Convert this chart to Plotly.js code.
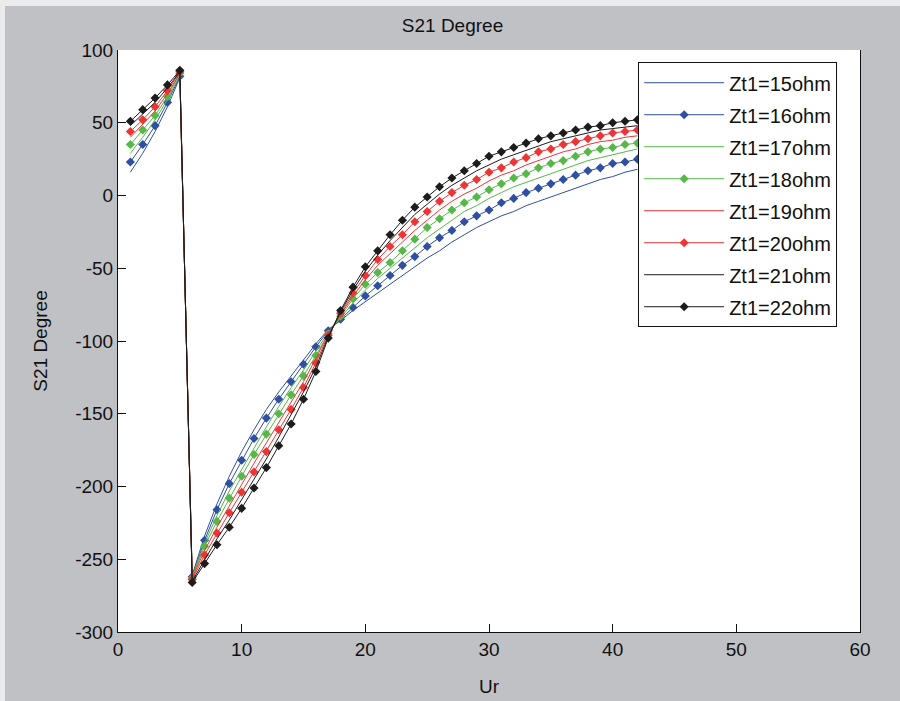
<!DOCTYPE html>
<html>
<head>
<meta charset="utf-8">
<script src="https://cdn.plot.ly/plotly-3.0.1.min.js"></script>
<style>
html,body{margin:0;padding:0;background:#ebebeb;width:900px;height:701px;overflow:hidden;}
#chart{position:absolute;left:5px;top:6px;width:895px;height:695px;}
</style>
</head>
<body>
<div id="chart"></div>
<script>
const ur = [1,2,3,4,5,6,7,8,9,10,11,12,13,14,15,16,17,18,19,20,21,22,23,24,25,26,27,28,29,30,31,32,33,34,35,36,37,38,39,40,41,42];

const zt15 = [16,29,44,61,81,-261,-234,-212,-193,-176,-161,-147,-135,-124,-113,-102,-92,-86,-79,-73,-67,-61,-55,-49,-43,-38,-32,-27,-22,-18,-14,-11,-7,-4,-1,2,5,8,11,13,16,18];
const zt16 = [23,35,48,64,82,-262,-237,-216,-198,-182,-167,-153,-140,-128,-116,-104,-93,-85,-77,-69,-62,-55,-48,-42,-35,-29,-24,-18,-14,-10,-5,-2,2,5,8,11,14,17,19,22,23,25];
const zt17 = [29,40,52,66,83,-262,-239,-220,-203,-188,-173,-159,-145,-132,-120,-107,-94,-84,-74,-65,-57,-50,-43,-36,-29,-23,-17,-11,-7,-2,2,6,9,12,15,18,21,24,26,28,30,32];
const zt18 = [35,45,55,68,84,-263,-241,-224,-208,-193,-178,-164,-150,-137,-124,-110,-95,-83,-71,-61,-53,-46,-38,-30,-22,-16,-10,-5,-1,4,8,12,15,19,22,24,27,30,32,33,35,36];
const zt19 = [40,49,58,70,84,-263,-244,-228,-213,-198,-184,-170,-156,-142,-128,-112,-95,-82,-69,-58,-48,-40,-32,-24,-17,-10,-4,1,5,10,14,17,21,24,27,30,32,35,37,38,40,41];
const zt20 = [44,52,61,72,85,-264,-247,-232,-218,-204,-190,-176,-161,-147,-132,-115,-96,-81,-67,-55,-44,-35,-27,-18,-11,-4,2,7,11,16,19,23,26,30,32,35,37,39,41,43,44,45];
const zt21 = [48,56,64,74,85,-265,-250,-236,-223,-209,-195,-181,-166,-151,-135,-118,-97,-80,-65,-52,-41,-31,-22,-13,-6,1,7,12,17,21,25,28,31,34,37,39,41,43,45,46,47,48];
const zt22 = [51,59,67,76,86,-266,-253,-240,-228,-215,-201,-187,-172,-157,-140,-121,-98,-79,-63,-49,-38,-27,-17,-8,-1,6,12,17,22,27,30,33,36,39,41,43,45,47,48,50,51,52];

const names = ['Zt1=15ohm','Zt1=16ohm','Zt1=17ohm','Zt1=18ohm','Zt1=19ohm','Zt1=20ohm','Zt1=21ohm','Zt1=22ohm'];
const xTicks = [0,10,20,30,40,50,60];
const yTicks = [-300,-250,-200,-150,-100,-50,0,50,100];
const yTickText = ['-300','-250','-200','-150','-100','-50','0','50','100'];

const series = [zt15, zt16, zt17, zt18, zt19, zt20, zt21, zt22];
const colors = ['#2f4fa3','#2f4fa3','#55b848','#55b848','#ee3535','#ee3535','#1c1c1c','#1c1c1c'];
const withMarkers = [false,true,false,true,false,true,false,true];

const traces = series.map((ys, i) => ({
  x: ur, y: ys, name: names[i], type: 'scatter',
  mode: withMarkers[i] ? 'lines+markers' : 'lines',
  line: {color: colors[i], width: 1},
  marker: {symbol: 'diamond', size: 7, color: colors[i]},
  legendgroup: 'g' + i
}));

const font = 'Liberation Sans, Arial, sans-serif';
const layout = {
  width: 895, height: 695,
  margin: {l: 113, r: 40, t: 44, b: 69},
  paper_bgcolor: '#c0c1c5',
  plot_bgcolor: '#ffffff',
  font: {family: font, size: 19, color: '#111'},
  title: {text: 'S21 Degree', x: 0.5, xanchor: 'center', y: 0.972, yanchor: 'middle', font: {family: font, size: 19, color: '#111'}},
  xaxis: {
    range: [0, 60], tickvals: xTicks,
    showgrid: false, zeroline: false, showline: true, linecolor: '#111', linewidth: 1, mirror: false,
    ticks: 'inside', ticklen: 8, tickcolor: '#111',
    tickfont: {family: font, size: 19},
    title: {text: 'Ur', standoff: 20, font: {family: font, size: 19}}
  },
  yaxis: {
    range: [-300, 100], tickvals: yTicks, ticktext: yTickText,
    showgrid: false, zeroline: false, showline: true, linecolor: '#111', linewidth: 1, mirror: true,
    ticks: 'inside', ticklen: 8, tickcolor: '#111',
    tickfont: {family: font, size: 19},
    title: {text: 'S21 Degree', standoff: 22, font: {family: font, size: 19}}
  },
  showlegend: true,
  legend: {
    x: 0.701, y: 0.979, xanchor: 'left', yanchor: 'top',
    bgcolor: '#ffffff', bordercolor: '#111', borderwidth: 1,
    font: {family: font, size: 20, color: '#111'},
    itemwidth: 80, tracegroupgap: 3, traceorder: 'grouped'
  }
};

Plotly.newPlot('chart', traces, layout, {displayModeBar: false, staticPlot: true});
</script>
</body>
</html>
